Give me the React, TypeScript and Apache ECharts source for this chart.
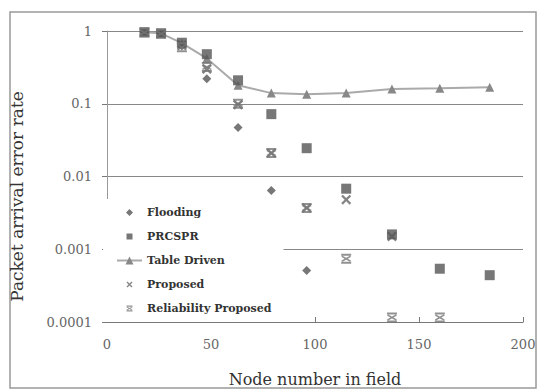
import React, { useEffect, useRef } from "react";
import * as echarts from "echarts";

const nodes = [18, 26, 36, 48, 63, 79, 96, 115, 137, 160, 184];
const flooding = [0.96, 0.92, 0.62, 0.22, 0.047, 0.0064, 0.00051, null, null, null, null];
const prcspr = [0.96, 0.93, 0.69, 0.48, 0.21, 0.072, 0.0245, 0.0068, 0.0016, 0.00054, 0.00044];
const tableDriven = [0.96, 0.93, 0.68, 0.42, 0.18, 0.14, 0.135, 0.14, 0.16, 0.163, 0.168];
const proposed = [0.96, 0.92, 0.64, 0.3, 0.097, 0.021, 0.0037, 0.0048, 0.0015, null, null];
const reliabilityProposed = [0.95, 0.92, 0.6, 0.32, 0.1, 0.021, 0.0037, 0.00074, 0.000115, 0.000115, null];
const yTickLabels = ["1", "0.1", "0.01", "0.001", "0.0001"];
const xTicks = [0, 50, 100, 150, 200];

const pairs = (vals: (number | null)[]) =>
  nodes.map((x, i) => [x, vals[i]]).filter((p) => p[1] !== null);

const X_D =
  "M0,1.6L1.6,0L5,3.4L8.4,0L10,1.6L6.6,5L10,8.4L8.4,10L5,6.6L1.6,10L0,8.4L3.4,5Z";
const XBAR_D =
  "M0,0H10V2H0ZM0,8H10V10H0ZM1.2,2L5,4L8.8,2L10,3L6.6,5L10,7L8.8,8L5,6L1.2,8L0,7L3.4,5L0,3Z";

// legend icons framed in a 25x10 box so that markers keep their size
const CORNERS = "M0,0h0.05v0.05h-0.05ZM25,10h-0.05v-0.05h0.05Z";
const shift = (d: string, dx: number, dy: number, s: number) =>
  d.replace(/([MLHV])([\d.,-]+)/g, (_m, c, nums) => {
    const n = nums.split(",").map(Number);
    if (c === "H") return "H" + (n[0] * s + dx);
    if (c === "V") return "V" + (n[0] * s + dy);
    return c + (n[0] * s + dx) + "," + (n[1] * s + dy);
  });
const LEG_DIAMOND = "path://" + CORNERS + "M12.5,1.5L16,5L12.5,8.5L9,5Z";
const LEG_RECT = "path://" + CORNERS + "M9.5,2H15.5V8H9.5Z";
const LEG_X = "path://" + CORNERS + shift(X_D, 9.5, 2, 0.6);
const LEG_XBAR = "path://" + CORNERS + shift(XBAR_D, 9.5, 2, 0.6);

const SERIF = "DejaVu Serif";

export default function App() {
  const ref = useRef<HTMLDivElement>(null);
  useEffect(() => {
    const chart = echarts.init(ref.current!, null, { renderer: "svg" });
    chart.setOption({
      animation: false,
      backgroundColor: "#fff",
      textStyle: { fontFamily: SERIF },
      graphic: [
        {
          type: "rect",
          shape: { x: 10, y: 12, width: 526, height: 376 },
          style: { fill: "none", stroke: "#999", lineWidth: 1.5 },
          silent: true,
          z: -1,
        },
      ],
      grid: { left: 105, right: 18, top: 31, bottom: 62 },
      legend: {
        orient: "vertical",
        left: 103,
        top: 199,
        padding: [8, 12, 8, 13],
        backgroundColor: "#fff",
        itemWidth: 25,
        itemHeight: 10,
        itemGap: 13,
        textStyle: { fontFamily: SERIF, fontWeight: "bold", fontSize: 11, color: "#333" },
        data: [
          { name: "Flooding", icon: LEG_DIAMOND },
          { name: "PRCSPR", icon: LEG_RECT },
          { name: "Table Driven" },
          { name: "Proposed", icon: LEG_X },
          { name: "Reliability Proposed", icon: LEG_XBAR },
        ],
        z: 10,
      },
      xAxis: {
        type: "value",
        min: 0,
        max: 200,
        interval: 50,
        name: "Node number in field",
        nameLocation: "middle",
        nameGap: 49,
        nameTextStyle: { fontFamily: SERIF, fontSize: 16, color: "#333" },
        axisLine: { lineStyle: { color: "#777", width: 1.2 } },
        axisTick: { inside: true, length: 5, lineStyle: { color: "#777" } },
        axisLabel: {
          margin: 16,
          fontFamily: SERIF,
          fontSize: 13,
          color: "#666",
          formatter: (v: number) => String(xTicks.find((t) => t === v) ?? v),
        },
        splitLine: { show: false },
      },
      yAxis: {
        type: "log",
        logBase: 10,
        min: 0.0001,
        max: 1,
        name: "Packet arrival error rate",
        nameLocation: "middle",
        nameGap: 82,
        nameTextStyle: { fontFamily: SERIF, fontSize: 17, color: "#333", padding: [0, 40, 0, 0] },
        axisLine: { show: true, lineStyle: { color: "#999", width: 1 } },
        axisTick: { show: true, length: 5, lineStyle: { color: "#777" } },
        axisLabel: {
          margin: 15,
          fontFamily: SERIF,
          fontSize: 13,
          color: "#666",
          formatter: (v: number) => yTickLabels[Math.round(-Math.log10(v))] ?? String(v),
        },
        splitLine: { show: true, lineStyle: { color: "#888", width: 1.2 } },
      },
      series: [
        {
          name: "Table Driven",
          type: "line",
          data: pairs(tableDriven),
          symbol: "triangle",
          symbolSize: 9,
          lineStyle: { color: "#aaa", width: 2 },
          itemStyle: { color: "#888" },
          z: 2,
        },
        {
          name: "Flooding",
          type: "scatter",
          data: pairs(flooding),
          symbol: "diamond",
          symbolSize: 9,
          itemStyle: { color: "#555" },
          z: 3,
        },
        {
          name: "Proposed",
          type: "scatter",
          data: pairs(proposed),
          symbol: "path://" + X_D,
          symbolSize: 10,
          itemStyle: { color: "#666" },
          z: 3,
        },
        {
          name: "PRCSPR",
          type: "scatter",
          data: pairs(prcspr),
          symbol: "rect",
          symbolSize: 10,
          itemStyle: { color: "#555" },
          z: 4,
        },
        {
          name: "Reliability Proposed",
          type: "scatter",
          data: pairs(reliabilityProposed),
          symbol: "path://" + XBAR_D,
          symbolSize: 10,
          itemStyle: { color: "#777" },
          z: 5,
        },
      ],
    });
    return () => chart.dispose();
  }, []);
  return (
    <div
      ref={ref}
      style={{ position: "absolute", left: 0, top: 0, width: 541, height: 392 }}
    />
  );
}
